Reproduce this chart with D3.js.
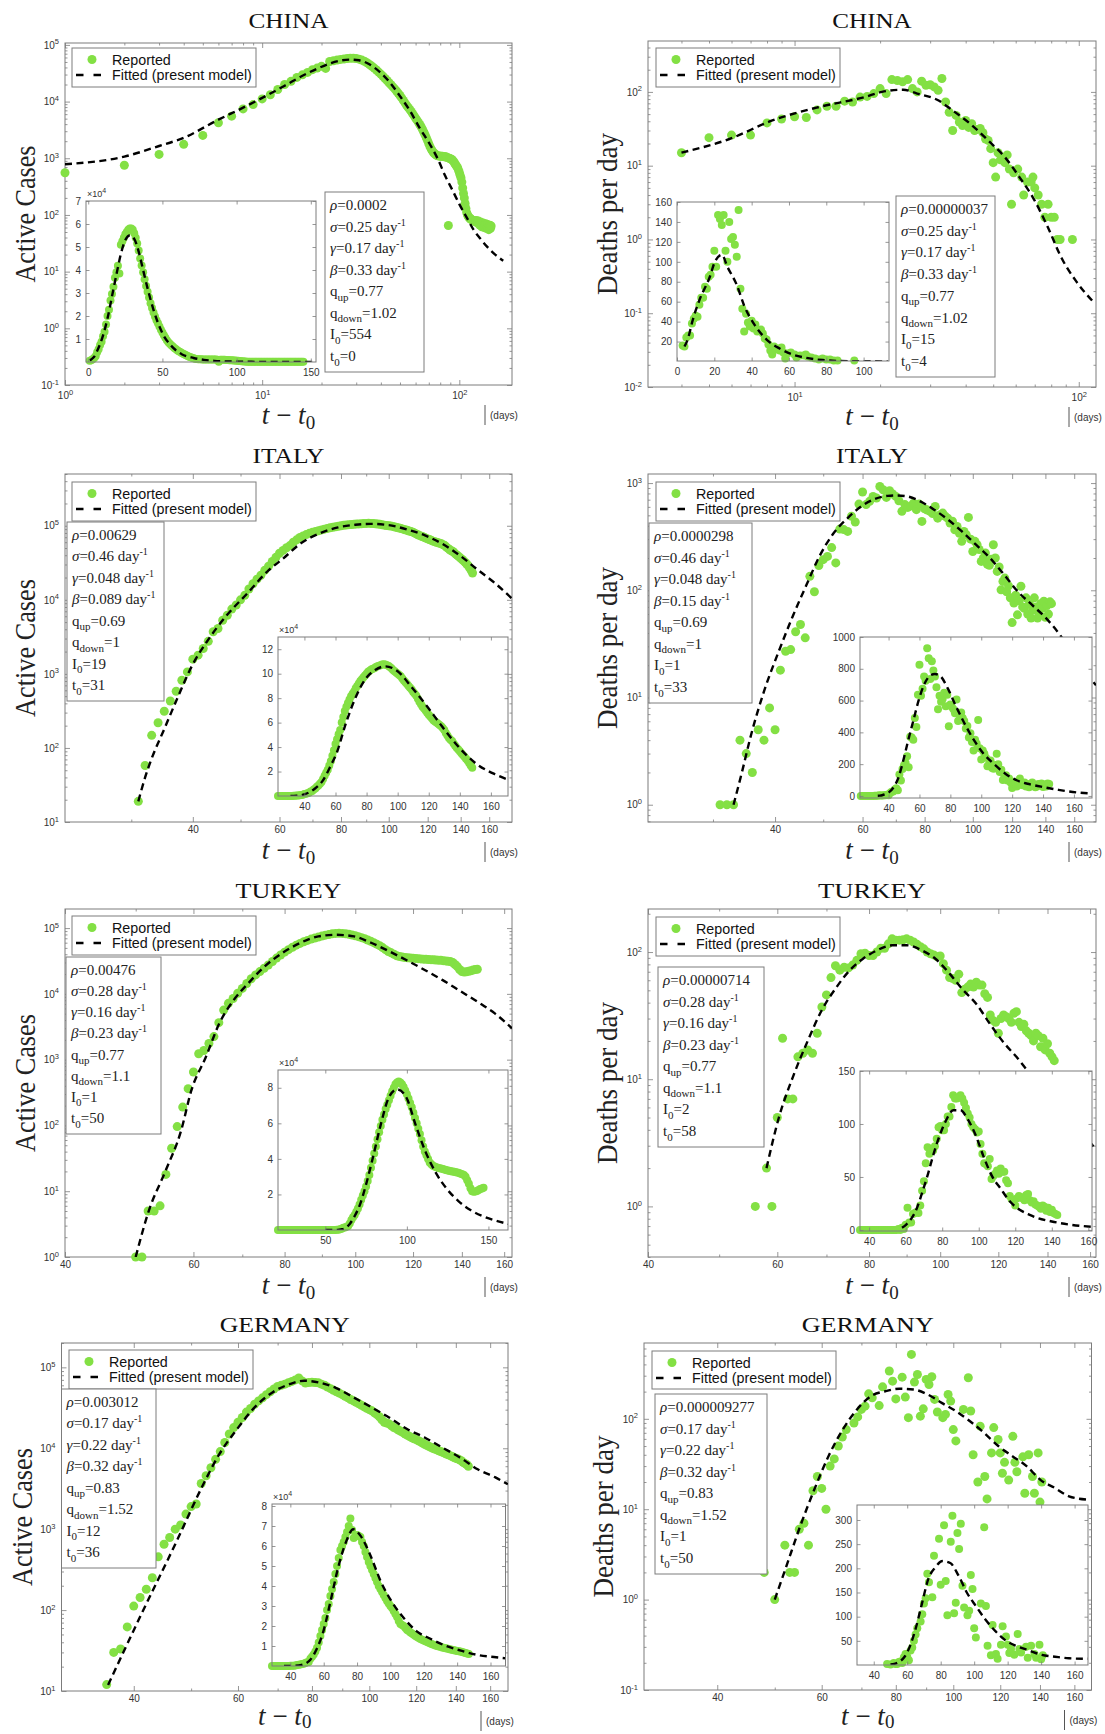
<!DOCTYPE html>
<html>
<head>
<meta charset="utf-8">
<script src="https://cdn.jsdelivr.net/npm/d3@7"></script>
<style>
  body { margin: 0; background: #fff; }
  svg { display: block; }
</style>
</head>
<body>
<script>
// ----------------------------------------------------------------------------
// Reported data (daily series: first value belongs to the *Start day)
// ----------------------------------------------------------------------------
const chinaCasesStart = 1;
const chinaCases = [
  554, 753, 1170, 1760, 2530, 4230, 5530, 7430, 8850, 11150,
  13200, 16300, 20000, 22750, 26700, 29600, 32700, 36600, 39000, 41800,
  38500, 51000, 52500, 54000, 55500, 56500, 57500, 58000, 58000, 57500,
  56000, 54000, 51500, 48500, 45000, 42000, 39000, 36000, 33000, 30500,
  28000, 25500, 23500, 21500, 19800, 18200, 16800, 15400, 14000, 12800,
  11600, 10500, 9500, 8600, 7900, 7300, 6700, 6100, 5600, 5100,
  4700, 4300, 3950, 3600, 3250, 2900, 2600, 2300, 2050, 1800,
  1600, 1450, 1350, 1250, 1200, 1150, 1120, 1100, 1100, 1090,
  1080, 1080, 1070, 1060, 1060, 1050, 1030, 65, 1000, 980,
  960, 940, 900, 860, 800, 760, 720, 680, 620, 560,
  500, 450, 380, 300, 240, 200, 160, 130, 110, 100,
  95, 90, 87, 85, 83, 82, 80, 80, 78, 77,
  76, 80, 74, 72, 78, 70, 66, 75, 70, 62,
  68, 72, 65, 60, 66, 70, 58, 63, 68, 60,
  55, 62, 66, 58, 64
];

const chinaDeaths = [
  [3,16],[4,15],[5,24],[6,26],[7,26],[8,38],[9,43],[10,46],[11,45],[12,57],
  [13,64],[14,64],[15,75],[16,73],[17,85],[18,87],[19,95],[20,111],[21,95],[22,147],
  [23,143],[24,137],[25,147],[26,111],[27,100],[28,140],[29,123],[30,125],[31,117],[32,105],
  [33,152],[34,73],[35,53],[36,30],[37,48],[38,39],[39,35],[40,41],[41,33],[42,37],
  [43,30],[44,31],[45,32],[46,28],[47,23],[48,22],[49,17],[50,11],[51,7],[52,15],
  [53,12],[54,13],[55,11],[56,14],[57,9],[58,3],[59,8],[61,9],[63,7],[64,4],
  [66,6],[68,6],[69,7],[70,5],[72,4],[74,3],[76,2],[78,3],[80,2],[82,2],
  [84,1],[86,1],[95,1]
];

const italyCasesStart = 23;
const italyCases = [
  0, 0, 0, 0, 0, 0, 0, 0,
  19, 58, 148, 219, 313, 431, 583, 820, 1064, 1580,
  1790, 2200, 2750, 3700, 4100, 5300, 6200, 7500, 8500, 10000,
  11500, 14000, 16500, 19000, 21500, 25000, 28500, 33000, 37500, 42500,
  46500, 50500, 54000, 60000, 64500, 69500, 73000, 76000, 79000, 81500,
  83500, 85500, 88000, 90000, 92000, 94000, 95500, 97000, 98500, 100000,
  101500, 102500, 103500, 104000, 104500, 105500, 106000, 106500, 107000, 107500,
  107800, 107500, 107000, 106500, 105500, 104500, 103000, 102000, 101000, 100000,
  99000, 98000, 96000, 94500, 93000, 91500, 90000, 88500, 87000, 85000,
  83500, 82000, 79500, 77000, 75000, 73000, 71500, 70000, 68000, 66500,
  65000, 63500, 62000, 61000, 60000, 59000, 58000, 57000, 55500, 54000,
  51500, 49500, 47500, 46000, 45000, 43000, 41000, 39500, 38000, 36500,
  35000, 33500, 32000, 30500, 29000, 27000, 25000, 23000
];

const italyDeathsStart = 22;
const italyDeaths = [
  0, 0, 0, 0, 0, 0, 0, 0, 0,
  1, 1, 1, 4, 3, 2, 5, 4, 8, 5,
  18, 27, 28, 41, 48, 36, 135, 97, 170, 193,
  207, 250, 180, 372, 368, 354, 490, 433, 637, 825,
  630, 675, 751, 725, 930, 866, 735, 848, 790, 751,
  684, 545, 630, 593, 610, 650, 565, 637, 439, 576,
  560, 545, 520, 606, 471, 506, 525, 490, 471, 424,
  440, 367, 394, 340, 286, 354, 330, 478, 300, 230,
  286, 266, 240, 186, 200, 223, 175, 171, 195, 266,
  200, 150, 165, 101, 121, 130, 97, 110, 85, 50,
  76, 90, 59, 80, 109, 70, 68, 85, 60, 75,
  55, 65, 85, 70, 55, 60, 75, 68, 79, 56,
  72, 60, 78, 75
];

const turkeyCasesStart = 21;
const turkeyCases = [
  0, 0, 0, 0, 0, 0, 0, 0, 0, 0,
  0, 0, 0, 0, 0, 0, 0, 0, 0, 0,
  0, 0, 0, 0, 0, 0, 0, 0, 0,
  1, 1, 5, 5, 6, 18, 45, 96, 190, 362,
  650, 1230, 1380, 1760, 2240, 3650, 5670, 7170, 8500, 10200,
  12100, 14400, 17000, 19400, 21800, 24500, 27500, 31000, 35000, 39000,
  43000, 47000, 51000, 55000, 58500, 62000, 65000, 68000, 70500, 73000,
  75500, 78000, 80000, 82000, 83000, 83600, 83000, 82000, 80500, 78500,
  76400, 74000, 71500, 69000, 66000, 63000, 60000, 57000, 54000, 50500,
  47000, 44100, 42000, 40000, 38000, 37000, 36200, 35700, 35300, 35000,
  34800, 34600, 34300, 34000, 33700, 33500, 33300, 33100, 32900, 32700,
  32500, 32300, 32000, 31700, 31300, 31000, 30000, 28000, 26000, 23500,
  21800, 21500, 21700, 22000, 22500, 23000, 23400, 23700
];

const turkeyDeathsStart = 35;
const turkeyDeaths = [
  0, 0, 0, 0, 0, 0, 0, 0, 0, 0,
  0, 0, 0, 0, 0, 0, 0, 0, 0, 0,
  0,
  1, 0, 2, 1, 5, 21, 7, 7, 15, 16,
  17, 16, 23, 37, 46, 63, 78, 72, 76, 75,
  79, 86, 97, 98, 94, 94, 100, 107, 107, 116,
  127, 124, 124, 125, 127, 124, 120, 115, 110, 106,
  100, 97, 95, 92, 93, 81, 72, 63, 62, 60,
  67, 48, 51, 53, 56, 53, 58, 55, 55, 47,
  44, 32, 29, 28, 23, 30, 32, 31, 30, 28,
  33, 34, 28, 26, 27, 24, 23, 22, 20, 23,
  22, 18, 21, 17, 19, 16, 15, 14
];

const germanyCasesStart = 29;
const germanyCases = [
  0, 0, 0, 0, 0, 0, 0,
  12, 30, 33, 62, 112, 143, 181, 251, 455, 652,
  789, 1000, 1130, 1535, 1900, 2050, 3670, 4570, 5750, 7300,
  9100, 11800, 15000, 18000, 21000, 24000, 28000, 31000, 35000, 38500,
  42000, 46000, 50000, 54000, 58000, 60000, 62000, 64500, 67000, 70000,
  73800, 68000, 64000, 65000, 65500, 65000, 64500, 62000, 60000, 57000,
  54500, 52000, 50000, 48000, 46000, 44000, 42000, 40000, 38500, 37000,
  35500, 34000, 32500, 31200, 30000, 29000, 27500, 26000, 24500, 22500,
  21000, 20500, 20000, 19000, 18000, 17500, 16800, 16200, 15600, 15000,
  14500, 14000, 13500, 13100, 12800, 12400, 12000, 11600, 11200, 10900,
  10600, 10300, 10000, 9800, 9600, 9300, 9100, 8900, 8700, 8500,
  8300, 8100, 7900, 7700, 7500, 7400, 7200, 7000, 6700, 6500,
  6300, 6000
];

const germanyDeaths = [
  [48,2],[50,1],[52,4],[53,2],[54,2],[55,6],[56,7],[57,4],[58,16],[59,23],
  [60,17],[61,10],[62,30],[63,36],[64,50],[65,63],[66,76],[68,90],[69,105],[70,127],
  [71,138],[72,189],[73,171],[75,140],[76,226],[78,338],[79,261],[80,166],[82,289],[83,174],
  [84,103],[85,516],[86,255],[87,309],[88,107],[89,129],[90,273],[91,240],[92,292],[93,164],
  [94,119],[96,103],[97,112],[98,186],[99,157],[100,76],[101,57],[104,127],[106,285],[107,122],
  [108,40],[110,20],[111,83],[113,23],[114,13],[116,42],[117,80],[119,59],[120,42],[121,25],
  [122,33],[124,21],[126,64],[127,33],[128,26],[131,38],[132,15],[134,40],[136,23],[137,15],
  [139,42],[140,12],[141,20]
];

// ----------------------------------------------------------------------------
// Fitted model curves (knots along each curve, [day, value])
// ----------------------------------------------------------------------------
const chinaCasesFit = [
  [1,785],[2,1070],[3,1645],[4,2300],[6,4800],[8,7800],[10,11600],[13,19000],[16,28500],
  [19,38000],[22,47000],[25,53000],[28,55000],[31,53500],[34,48000],[37,40000],[40,32000],
  [44,22700],[50,12500],[56,7000],[63,3400],[71,1750],[78,950],[85,480],[92,280],[100,155],
  [110,85],[118,55],[128,38],[139,27],[152,20],[167,15.5]
];
const chinaDeathsFit = [
  [4,15],[5.9,23],[8.35,41],[12.1,62],[17.6,85],[20.3,100],[24.1,107],[27,95],[32,77],
  [36,56],[41.5,37],[48,22],[55,13],[62,6.9],[69,3.7],[78,1.44],[87,0.56],[98,0.27],[113,0.14]
];
const italyCasesFit = [
  [31,19],[32,40],[33,72],[35,180],[37,430],[40,1350],[43,2900],[46.6,5900],[51.6,12200],
  [57,25000],[61,36000],[66.3,58000],[72.4,79000],[78.9,95000],[85.5,103000],[92,106000],
  [100,102000],[109,89000],[118.5,74000],[128.5,57000],[140,39000],[151,26000],[164,17000],[178,10400]
];
const italyDeathsFit = [
  [33,1],[34.3,2],[35.8,4.5],[38,11.4],[40.7,27],[43.4,57],[46.3,113],[49.3,214],[52.5,342],
  [56,472],[59.6,606],[63.4,709],[67.4,760],[70,767],[73.4,755],[78.4,675],[83.6,565],
  [89.2,455],[95.1,354],[101.5,266],[108.3,200],[115.6,140],[123.3,97],[131.6,73],
  [140.4,55],[150,38],[162,22],[177,13]
];
const turkeyCasesFit = [
  [50,1],[52.1,5],[54.9,20],[57.7,83],[59.6,340],[62.4,1100],[65.1,3550],[68.1,8000],
  [71.3,14400],[75.1,26000],[79.4,41600],[84,59300],[89,74700],[94.1,79100],[99.6,74700],
  [105.3,59300],[111.4,44100],[117.8,32100],[124.5,23100],[131.6,16300],[139,11200],
  [147,7600],[155.5,5000],[164,3000]
];
const turkeyDeathsFit = [
  [58,2],[60.3,5],[63,10.4],[66,20],[69,35],[72.2,52.7],[75.3,71.8],[78.5,88.6],[82,103],
  [86,113],[90,113],[94.1,104],[98.5,88.6],[102.7,69],[107.2,51],[112,39],[117,27],
  [122.4,19],[127,15],[131,12],[140,8],[150,5],[163,2.8]
];
const germanyCasesFit = [
  [36.2,11.9],[41.2,89],[47.3,718],[52.1,3270],[55.8,8470],[59.8,17300],[64,32000],
  [68.6,49000],[73.5,62300],[77.7,68400],[82,65200],[87.9,55500],[94.1,42500],[100.9,32000],
  [108,24000],[115.8,17300],[124,13600],[132.8,10200],[142.2,7700],[152.4,5500],
  [163.3,4360],[171.4,3600]
];
const germanyDeathsFit = [
  [50,1],[52.3,2.33],[55.2,6.5],[58.3,16.5],[61.6,38.6],[65.1,76],[68.8,127],[72.6,178],
  [76.8,202],[81.1,215],[85.7,211],[90.5,186],[95.6,150],[101,122],[106.7,94],[112.7,70],
  [119.1,50],[125.8,38.6],[132.9,30],[140.4,21],[148.3,17.2],[156.7,13.9],[167.8,12.8]
];

// ----------------------------------------------------------------------------
// Fitted model parameters shown in each panel
// ----------------------------------------------------------------------------
const chinaCasesParams   = { rho: "0.0002",      sigma: "0.25", gamma: "0.17",  beta: "0.33",  qUp: "0.77", qDown: "1.02", I0: "554", t0: "0" };
const chinaDeathsParams  = { rho: "0.00000037",  sigma: "0.25", gamma: "0.17",  beta: "0.33",  qUp: "0.77", qDown: "1.02", I0: "15",  t0: "4" };
const italyCasesParams   = { rho: "0.00629",     sigma: "0.46", gamma: "0.048", beta: "0.089", qUp: "0.69", qDown: "1",    I0: "19",  t0: "31" };
const italyDeathsParams  = { rho: "0.0000298",   sigma: "0.46", gamma: "0.048", beta: "0.15",  qUp: "0.69", qDown: "1",    I0: "1",   t0: "33" };
const turkeyCasesParams  = { rho: "0.00476",     sigma: "0.28", gamma: "0.16",  beta: "0.23",  qUp: "0.77", qDown: "1.1",  I0: "1",   t0: "50" };
const turkeyDeathsParams = { rho: "0.00000714",  sigma: "0.28", gamma: "0.16",  beta: "0.23",  qUp: "0.77", qDown: "1.1",  I0: "2",   t0: "58" };
const germanyCasesParams = { rho: "0.003012",    sigma: "0.17", gamma: "0.22",  beta: "0.32",  qUp: "0.83", qDown: "1.52", I0: "12",  t0: "36" };
const germanyDeathsParams= { rho: "0.000009277", sigma: "0.17", gamma: "0.22",  beta: "0.32",  qUp: "0.83", qDown: "1.52", I0: "1",   t0: "50" };

// ----------------------------------------------------------------------------
// Tick values
// ----------------------------------------------------------------------------
const dayTicks = [40, 60, 80, 100, 120, 140, 160];
const decadeTicks = [1e-2, 1e-1, 1, 10, 100, 1e3, 1e4, 1e5];
const chinaCasesInsetX = [0, 50, 100, 150];
const chinaCasesInsetY = [1e4, 2e4, 3e4, 4e4, 5e4, 6e4, 7e4];
const chinaDeathsInsetX = [0, 20, 40, 60, 80, 100];
const chinaDeathsInsetY = [20, 40, 60, 80, 100, 120, 140, 160];
const italyCasesInsetY = [2e4, 4e4, 6e4, 8e4, 10e4, 12e4];
const italyDeathsInsetY = [0, 200, 400, 600, 800, 1000];
const turkeyCasesInsetX = [50, 100, 150];
const turkeyCasesInsetY = [2e4, 4e4, 6e4, 8e4];
const turkeyDeathsInsetY = [0, 50, 100, 150];
const germanyCasesInsetY = [1e4, 2e4, 3e4, 4e4, 5e4, 6e4, 7e4, 8e4];
const germanyDeathsInsetY = [50, 100, 150, 200, 250, 300];

// ----------------------------------------------------------------------------
// Drawing
// ----------------------------------------------------------------------------
const W = 1105, H = 1734;
const GREEN = "#83e044";
const AXIS = "#7c7c7c";
const LABEL = "#333";
const SERIF = "'Liberation Serif','Times New Roman',serif";
const SANS = "'Liberation Sans',Arial,sans-serif";

const svg = d3.select("body").append("svg")
  .attr("width", W).attr("height", H)
  .attr("viewBox", `0 0 ${W} ${H}`);
svg.append("rect").attr("width", W).attr("height", H).attr("fill", "#fff");

const daily = (start, values) => values.map((v, i) => [start + i, v]);
let clipId = 0;

function logMinor(domain, majors) {
  const out = [];
  const lo = Math.floor(Math.log10(domain[0])), hi = Math.ceil(Math.log10(domain[1]));
  for (let k = lo; k <= hi; k++) {
    for (let m = 1; m <= 9; m++) {
      const v = m * Math.pow(10, k);
      if (v >= domain[0] && v <= domain[1] && !majors.some(t => Math.abs(t - v) / v < 1e-9)) out.push(v);
    }
  }
  return out;
}

function styleAxis(a, fs) {
  a.attr("font-family", SANS).attr("font-size", fs).attr("color", AXIS);
  a.select(".domain").remove();
  a.selectAll(".tick line").attr("stroke-width", 0.8);
  a.selectAll(".tick text").attr("fill", LABEL);
  return a;
}

function powLabels(a) {
  a.selectAll(".tick text").each(function (d) {
    const t = d3.select(this).text(null);
    t.append("tspan").text("10");
    t.append("tspan").attr("dy", "-0.55em").attr("font-size", "7.5px")
      .text(String(Math.round(Math.log10(d))));
  });
}

// Box axes with inward ticks on all four sides
function boxAxes(g, x, y, f, o) {
  const T = o.tick, t = o.minorTick;
  const none = () => "";
  // bottom (labelled)
  const b = g.append("g").attr("transform", `translate(0,${f.y1})`)
    .call(d3.axisBottom(x).tickValues(o.xTicks).tickSizeInner(-T).tickSizeOuter(0)
      .tickPadding(o.xPad).tickFormat(o.xFmt || (d => d)));
  styleAxis(b, o.fs);
  if (o.xPow) powLabels(b);
  // left (labelled)
  const l = g.append("g").attr("transform", `translate(${f.x0},0)`)
    .call(d3.axisLeft(y).tickValues(o.yTicks).tickSizeInner(-T).tickSizeOuter(0)
      .tickPadding(o.yPad).tickFormat(o.yFmt || (d => d)));
  styleAxis(l, o.fs);
  if (o.yPow) powLabels(l);
  // mirrored top / right
  styleAxis(g.append("g").attr("transform", `translate(0,${f.y0})`)
    .call(d3.axisTop(x).tickValues(o.xTicks).tickSizeInner(-T).tickSizeOuter(0).tickFormat(none)), o.fs);
  styleAxis(g.append("g").attr("transform", `translate(${f.x1},0)`)
    .call(d3.axisRight(y).tickValues(o.yTicks).tickSizeInner(-T).tickSizeOuter(0).tickFormat(none)), o.fs);
  // minor ticks
  if (o.xMinor && o.xMinor.length) {
    styleAxis(g.append("g").attr("transform", `translate(0,${f.y1})`)
      .call(d3.axisBottom(x).tickValues(o.xMinor).tickSizeInner(-t).tickSizeOuter(0).tickFormat(none)), o.fs);
    styleAxis(g.append("g").attr("transform", `translate(0,${f.y0})`)
      .call(d3.axisTop(x).tickValues(o.xMinor).tickSizeInner(-t).tickSizeOuter(0).tickFormat(none)), o.fs);
  }
  if (o.yMinor && o.yMinor.length) {
    styleAxis(g.append("g").attr("transform", `translate(${f.x0},0)`)
      .call(d3.axisLeft(y).tickValues(o.yMinor).tickSizeInner(-t).tickSizeOuter(0).tickFormat(none)), o.fs);
    styleAxis(g.append("g").attr("transform", `translate(${f.x1},0)`)
      .call(d3.axisRight(y).tickValues(o.yMinor).tickSizeInner(-t).tickSizeOuter(0).tickFormat(none)), o.fs);
  }
  g.append("rect").attr("x", f.x0).attr("y", f.y0)
    .attr("width", f.x1 - f.x0).attr("height", f.y1 - f.y0)
    .attr("fill", "none").attr("stroke", AXIS).attr("stroke-width", 1);
}

function addClip(f) {
  const id = "clip" + (clipId++);
  svg.append("clipPath").attr("id", id).append("rect")
    .attr("x", f.x0).attr("y", f.y0).attr("width", f.x1 - f.x0).attr("height", f.y1 - f.y0);
  return `url(#${id})`;
}

function drawSeries(g, x, y, f, reported, fit, r) {
  const [x0, x1] = x.domain(), [y0, y1] = y.domain();
  const inside = d => d[0] >= x0 && d[0] <= x1 && d[1] >= y0 && d[1] <= y1;
  g.append("g").selectAll("circle").data(reported.filter(inside)).join("circle")
    .attr("cx", d => x(d[0])).attr("cy", d => y(d[1])).attr("r", r).attr("fill", GREEN);
  g.append("path").datum(fit)
    .attr("clip-path", addClip(f))
    .attr("d", d3.line().x(d => x(d[0])).y(d => y(d[1])).curve(d3.curveMonotoneX))
    .attr("fill", "none").attr("stroke", "#000").attr("stroke-width", 2.4)
    .attr("stroke-dasharray", "7,4.5");
}

function richLine(g, x, y, segs) {
  const t = g.append("text").attr("x", x).attr("y", y)
    .attr("font-family", SERIF).attr("font-size", 15).attr("fill", "#222");
  let shift = 0;
  segs.forEach(([s, kind]) => {
    const ts = t.append("tspan").text(s);
    let target = 0;
    if (kind === "sub") { target = 4.5; ts.attr("font-size", 11); }
    else if (kind === "sup") { target = -6; ts.attr("font-size", 10); }
    if (kind === "i") ts.attr("font-style", "italic");
    if (target !== shift) { ts.attr("dy", target - shift); shift = target; }
  });
}

function paramBox(g, b, p) {
  g.append("rect").attr("x", b.x0).attr("y", b.y0).attr("width", b.x1 - b.x0).attr("height", b.y1 - b.y0)
    .attr("fill", "#fff").attr("stroke", AXIS).attr("stroke-width", 1);
  const lines = [
    [["ρ", "i"], ["=" + p.rho, ""]],
    [["σ", "i"], ["=" + p.sigma + " day", ""], ["-1", "sup"]],
    [["γ", "i"], ["=" + p.gamma + " day", ""], ["-1", "sup"]],
    [["β", "i"], ["=" + p.beta + " day", ""], ["-1", "sup"]],
    [["q", ""], ["up", "sub"], ["=" + p.qUp, ""]],
    [["q", ""], ["down", "sub"], ["=" + p.qDown, ""]],
    [["I", ""], ["0", "sub"], ["=" + p.I0, ""]],
    [["t", ""], ["0", "sub"], ["=" + p.t0, ""]]
  ];
  const step = (b.y1 - b.y0 - 29) / 7;
  lines.forEach((segs, i) => richLine(g, b.x0 + 5, b.y0 + 18 + i * step, segs));
}

function legendBox(g, b) {
  g.append("rect").attr("x", b.x0).attr("y", b.y0).attr("width", b.x1 - b.x0).attr("height", b.y1 - b.y0)
    .attr("fill", "#fff").attr("stroke", AXIS).attr("stroke-width", 1);
  const r1 = b.y0 + 11.5, r2 = b.y0 + 27;
  g.append("circle").attr("cx", b.x0 + 20).attr("cy", r1).attr("r", 4.5).attr("fill", GREEN);
  g.append("line").attr("x1", b.x0 + 4).attr("x2", b.x0 + 29).attr("y1", r2).attr("y2", r2)
    .attr("stroke", "#000").attr("stroke-width", 2.4).attr("stroke-dasharray", "7.5,10");
  const txt = (s, yy) => g.append("text").attr("x", b.x0 + 40).attr("y", yy + 5)
    .attr("font-family", SANS).attr("font-size", 14.3).attr("fill", "#111").text(s);
  txt("Reported", r1);
  txt("Fitted (present model)", r2);
}

function drawInset(g, p) {
  const q = p.inset, f = q.frame;
  const x = d3.scaleLinear().domain(q.xDomain).range([f.x0, f.x1]);
  const y = d3.scaleLinear().domain(q.yDomain).range([f.y1, f.y0]);
  g.append("rect").attr("x", f.x0).attr("y", f.y0).attr("width", f.x1 - f.x0).attr("height", f.y1 - f.y0)
    .attr("fill", "#fff");
  drawSeries(g, x, y, f, p.reported, p.fit, 4);
  boxAxes(g, x, y, f, {
    xTicks: q.xTicks, yTicks: q.yTicks, tick: 3.5, minorTick: 2,
    xPad: 6.5, yPad: 5, fs: 10,
    yFmt: q.exp ? (d => String(Math.round(d / 1e4))) : (d => d)
  });
  if (q.exp) {
    const t = g.append("text").attr("x", f.x0 + 1).attr("y", f.y0 - 4)
      .attr("font-family", SANS).attr("font-size", 9).attr("fill", LABEL);
    t.append("tspan").text("×10");
    t.append("tspan").attr("dy", -4).attr("font-size", 7).text("4");
  }
}

function drawPanel(p) {
  const f = p.frame;
  const g = svg.append("g");
  const cx = (f.x0 + f.x1) / 2;
  const x = d3.scaleLog().domain(p.xDomain).range([f.x0, f.x1]);
  const y = d3.scaleLog().domain(p.yDomain).range([f.y1, f.y0]);

  // title
  g.append("text").attr("x", cx).attr("y", p.titleY).attr("text-anchor", "middle")
    .attr("font-family", SERIF).attr("font-size", 21).attr("fill", "#111")
    .attr("textLength", p.titleW).attr("lengthAdjust", "spacingAndGlyphs").text(p.title);

  // y label
  g.append("text").attr("transform", `translate(${p.ylabelX},${(f.y0 + f.y1) / 2}) rotate(-90)`)
    .attr("text-anchor", "middle").attr("font-family", SERIF).attr("font-size", 30).attr("fill", "#222")
    .attr("textLength", p.ylabelW).attr("lengthAdjust", "spacingAndGlyphs").text(p.ylabel);

  // x label  t − t0
  const xl = g.append("text").attr("x", cx).attr("y", p.xlabelY).attr("text-anchor", "middle")
    .attr("font-family", SERIF).attr("font-size", 27).attr("fill", "#222");
  xl.append("tspan").attr("font-style", "italic").text("t");
  xl.append("tspan").text(" − ");
  xl.append("tspan").attr("font-style", "italic").text("t");
  xl.append("tspan").attr("font-size", 19).attr("dy", p.subDy).text("0");

  // unit marker
  const bx = f.x1 - 27;
  g.append("line").attr("x1", bx).attr("x2", bx).attr("y1", f.y1 + 20).attr("y2", f.y1 + 40)
    .attr("stroke", "#555").attr("stroke-width", 1);
  g.append("text").attr("x", bx + 5).attr("y", f.y1 + 33.5)
    .attr("font-family", SANS).attr("font-size", 10).attr("fill", LABEL).text("(days)");

  // main axes
  boxAxes(g, x, y, f, {
    xTicks: p.xTicks, yTicks: p.yTicks.filter(v => v >= p.yDomain[0] && v <= p.yDomain[1]),
    xMinor: logMinor(p.xDomain, p.xTicks), yMinor: logMinor(p.yDomain, p.yTicks),
    tick: 5, minorTick: 2.5, xPad: p.xPow ? 7 : 4, yPad: 6, fs: 10,
    xPow: p.xPow, yPow: true
  });

  // data + fit on log axes (zero days are not representable there)
  drawSeries(g, x, y, f, p.reported.filter(d => d[1] > 0), p.fit, 4.5);

  legendBox(g, p.legend);
  paramBox(g, p.params, p.paramValues);
  drawInset(g, p);
}

// ----------------------------------------------------------------------------
// Panel layout
// ----------------------------------------------------------------------------
const panels = [
  {
    title: "CHINA", titleW: 80, titleY: 28, ylabel: "Active Cases", ylabelW: 137, ylabelX: 35,
    xlabelY: 424, subDy: 5,
    frame: { x0: 65, y0: 43, x1: 512, y1: 385 },
    xDomain: [1, 185], yDomain: [0.1, 1.08e5], xTicks: [1, 10, 100], xPow: true, yTicks: decadeTicks,
    reported: daily(chinaCasesStart, chinaCases), fit: chinaCasesFit,
    legend: { x0: 72, y0: 48, x1: 256, y1: 87 },
    params: { x0: 325, y0: 192, x1: 424, y1: 372 }, paramValues: chinaCasesParams,
    inset: { frame: { x0: 86, y0: 201, x1: 316, y1: 362 }, xDomain: [-1.5, 153.5], yDomain: [0, 7e4],
             xTicks: chinaCasesInsetX, yTicks: chinaCasesInsetY, exp: true }
  },
  {
    title: "CHINA", titleW: 79.5, titleY: 28, ylabel: "Deaths per day", ylabelW: 162, ylabelX: 617,
    xlabelY: 425, subDy: 5,
    frame: { x0: 648, y0: 41, x1: 1096, y1: 387 },
    xDomain: [3.05, 115], yDomain: [0.01, 490], xTicks: [10, 100], xPow: true, yTicks: decadeTicks,
    reported: chinaDeaths, fit: chinaDeathsFit,
    legend: { x0: 656, y0: 48, x1: 840, y1: 87 },
    params: { x0: 896, y0: 196, x1: 995, y1: 377 }, paramValues: chinaDeathsParams,
    inset: { frame: { x0: 677, y0: 202, x1: 889, y1: 361 }, xDomain: [0, 113.6], yDomain: [0.5, 160],
             xTicks: chinaDeathsInsetX, yTicks: chinaDeathsInsetY, exp: false }
  },
  {
    title: "ITALY", titleW: 72, titleY: 463, ylabel: "Active Cases", ylabelW: 138, ylabelX: 35,
    xlabelY: 859, subDy: 5,
    frame: { x0: 65, y0: 474, x1: 512, y1: 822 },
    xDomain: [22, 178], yDomain: [10, 5e5], xTicks: dayTicks, xPow: false, yTicks: decadeTicks,
    reported: daily(italyCasesStart, italyCases), fit: italyCasesFit,
    legend: { x0: 72, y0: 482, x1: 256, y1: 521 },
    params: { x0: 67, y0: 522, x1: 164, y1: 701 }, paramValues: italyCasesParams,
    inset: { frame: { x0: 278, y0: 637, x1: 508, y1: 796 }, xDomain: [23, 171], yDomain: [0, 13e4],
             xTicks: dayTicks, yTicks: italyCasesInsetY, exp: true }
  },
  {
    title: "ITALY", titleW: 72, titleY: 463, ylabel: "Deaths per day", ylabelW: 162, ylabelX: 617,
    xlabelY: 859, subDy: 5,
    frame: { x0: 648, y0: 474, x1: 1096, y1: 822 },
    xDomain: [22.2, 177], yDomain: [0.69, 1215], xTicks: dayTicks, xPow: false, yTicks: decadeTicks,
    reported: daily(italyDeathsStart, italyDeaths), fit: italyDeathsFit,
    legend: { x0: 656, y0: 482, x1: 840, y1: 521 },
    params: { x0: 649, y0: 523, x1: 752, y1: 703 }, paramValues: italyDeathsParams,
    inset: { frame: { x0: 860, y0: 637, x1: 1092, y1: 798 }, xDomain: [21.5, 171.7], yDomain: [-13, 1000],
             xTicks: dayTicks, yTicks: italyDeathsInsetY, exp: false }
  },
  {
    title: "TURKEY", titleW: 106, titleY: 898, ylabel: "Active Cases", ylabelW: 138, ylabelX: 35,
    xlabelY: 1294, subDy: 5,
    frame: { x0: 65, y0: 909, x1: 512, y1: 1257 },
    xDomain: [40, 164], yDomain: [1, 1.95e5], xTicks: dayTicks, xPow: false, yTicks: decadeTicks,
    reported: daily(turkeyCasesStart, turkeyCases), fit: turkeyCasesFit,
    legend: { x0: 72, y0: 916, x1: 256, y1: 955 },
    params: { x0: 66, y0: 957, x1: 161, y1: 1134 }, paramValues: turkeyCasesParams,
    inset: { frame: { x0: 278, y0: 1070, x1: 508, y1: 1230 }, xDomain: [21, 162], yDomain: [0, 9e4],
             xTicks: turkeyCasesInsetX, yTicks: turkeyCasesInsetY, exp: true }
  },
  {
    title: "TURKEY", titleW: 108, titleY: 898, ylabel: "Deaths per day", ylabelW: 162, ylabelX: 617,
    xlabelY: 1294, subDy: 5,
    frame: { x0: 648, y0: 909, x1: 1096, y1: 1257 },
    xDomain: [40, 163], yDomain: [0.4, 218], xTicks: dayTicks, xPow: false, yTicks: decadeTicks,
    reported: daily(turkeyDeathsStart, turkeyDeaths), fit: turkeyDeathsFit,
    legend: { x0: 656, y0: 917, x1: 840, y1: 956 },
    params: { x0: 658, y0: 967, x1: 764, y1: 1147 }, paramValues: turkeyDeathsParams,
    inset: { frame: { x0: 860, y0: 1071, x1: 1092, y1: 1231 }, xDomain: [35, 162], yDomain: [-1, 150],
             xTicks: dayTicks, yTicks: turkeyDeathsInsetY, exp: false }
  },
  {
    title: "GERMANY", titleW: 130, titleY: 1332, ylabel: "Active Cases", ylabelW: 138, ylabelX: 32,
    xlabelY: 1725, subDy: 3,
    frame: { x0: 61.5, y0: 1343, x1: 508, y1: 1691 },
    xDomain: [30.2, 171.5], yDomain: [10, 2e5], xTicks: dayTicks, xPow: false, yTicks: decadeTicks,
    reported: daily(germanyCasesStart, germanyCases), fit: germanyCasesFit,
    legend: { x0: 69, y0: 1350, x1: 253, y1: 1389 },
    params: { x0: 61.5, y0: 1389, x1: 156, y1: 1568 }, paramValues: germanyCasesParams,
    inset: { frame: { x0: 272, y0: 1504, x1: 505.5, y1: 1666 }, xDomain: [29, 169], yDomain: [0, 8.1e4],
             xTicks: dayTicks, yTicks: germanyCasesInsetY, exp: true }
  },
  {
    title: "GERMANY", titleW: 132, titleY: 1332, ylabel: "Deaths per day", ylabelW: 162, ylabelX: 613,
    xlabelY: 1725, subDy: 3,
    frame: { x0: 644, y0: 1343, x1: 1091.5, y1: 1690 },
    xDomain: [30.1, 171], yDomain: [0.1, 690], xTicks: dayTicks, xPow: false, yTicks: decadeTicks,
    reported: germanyDeaths, fit: germanyDeathsFit,
    legend: { x0: 652, y0: 1351, x1: 836, y1: 1389 },
    params: { x0: 655, y0: 1394, x1: 767, y1: 1574 }, paramValues: germanyDeathsParams,
    inset: { frame: { x0: 857, y0: 1505, x1: 1088, y1: 1665 }, xDomain: [30, 168], yDomain: [0, 331],
             xTicks: dayTicks, yTicks: germanyDeathsInsetY, exp: false }
  }
];

panels.forEach(drawPanel);
</script>
</body>
</html>
